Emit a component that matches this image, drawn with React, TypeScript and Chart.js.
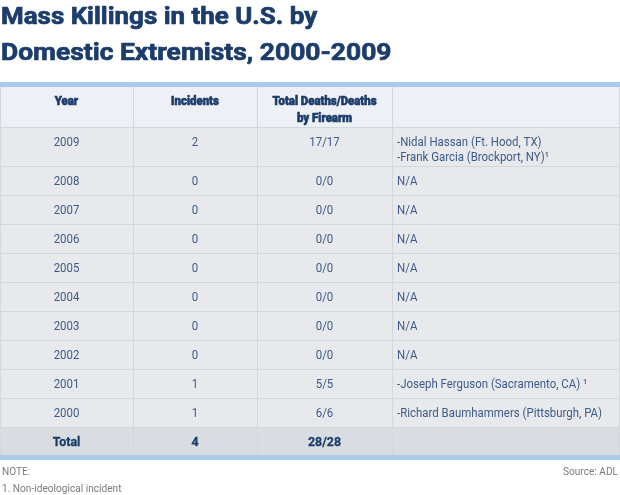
import React, { useEffect, useRef } from "react";
import { Chart, registerables } from "chart.js";
Chart.register(...registerables);

// ---- data ----
const titleLines = ["Mass Killings in the U.S. by", "Domestic Extremists, 2000-2009"];
const headerYear = "Year";
const headerIncidents = "Incidents";
const headerDeaths = ["Total Deaths/Deaths", "by Firearm"];
const years = ["2009", "2008", "2007", "2006", "2005", "2004", "2003", "2002", "2001", "2000"];
const incidents = [2, 0, 0, 0, 0, 0, 0, 0, 1, 1];
const totalDeaths = [17, 0, 0, 0, 0, 0, 0, 0, 5, 6];
const firearmDeaths = [17, 0, 0, 0, 0, 0, 0, 0, 5, 6];
const perpetrators = [
  ["-Nidal Hassan (Ft. Hood, TX)", "-Frank Garcia (Brockport, NY)\u00b9"],
  ["N/A"],
  ["N/A"],
  ["N/A"],
  ["N/A"],
  ["N/A"],
  ["N/A"],
  ["N/A"],
  ["-Joseph Ferguson (Sacramento, CA) \u00b9"],
  ["-Richard Baumhammers (Pittsburgh, PA)"],
];
const totalLabel = "Total";
const totalIncidents = 4;
const totalDeathsAll = 28;
const totalFirearmAll = 28;
const noteLabel = "NOTE:";
const footnotes = ["1. Non-ideological incident"];
const sourceLabel = "Source: ADL";

// ---- style ----
const W = 620;
const H = 495;
const COL_EDGES = [0, 133, 257, 392, 620];
const TABLE_TOP = 87;
const HEAD_BG = "#edf0f4";
const BODY_BG = "#e8e9ec";
const TOTAL_BG = "#d9dce0";
const GRID = "#d3d6da";
const BAND = "#a9cbe9";
const NAVY = "#1c3c6c";
const BODY_TEXT = "#3d5b89";
const NOTE_TEXT = "#7b7b7b";

type Kind = "head" | "body" | "total";
type Row = { kind: Kind; cells: string[][] };

const rows: Row[] = [
  { kind: "head", cells: [[headerYear], [headerIncidents], headerDeaths, []] },
  ...years.map((y, i) => ({
    kind: "body" as Kind,
    cells: [[y], [String(incidents[i])], [`${totalDeaths[i]}/${firearmDeaths[i]}`], perpetrators[i]],
  })),
  {
    kind: "total",
    cells: [[totalLabel], [String(totalIncidents)], [`${totalDeathsAll}/${totalFirearmAll}`], []],
  },
];

const lineCount = (r: Row) => Math.max(1, ...r.cells.map((c) => c.length));
const rowSize = (r: Row) => 29 + (lineCount(r) - 1) * (r.kind === "head" ? 11 : 10);
const rowStarts: number[] = [];
let acc = 0;
rows.forEach((r) => {
  rowStarts.push(acc);
  acc += rowSize(r);
});
const TOTAL_UNITS = acc;

function drawText(
  ctx: CanvasRenderingContext2D,
  s: string,
  x: number,
  y: number,
  align: CanvasTextAlign,
  sx: number,
  stroke = 0
) {
  ctx.save();
  ctx.translate(x, y);
  ctx.scale(sx, 1);
  ctx.textAlign = align;
  ctx.fillText(s, 0, 0);
  if (stroke > 0) {
    ctx.lineWidth = stroke;
    ctx.strokeStyle = ctx.fillStyle as string;
    ctx.lineJoin = "round";
    ctx.strokeText(s, 0, 0);
  }
  ctx.restore();
}

const tablePlugin = {
  id: "tablePlugin",
  beforeDraw(chart: any) {
    const { ctx, scales } = chart;
    const xs = scales.x;
    const ys = scales.y;
    const left = xs.getPixelForValue(COL_EDGES[0]);
    const right = xs.getPixelForValue(COL_EDGES[COL_EDGES.length - 1]);
    ctx.save();
    ctx.fillStyle = "#ffffff";
    ctx.fillRect(0, 0, chart.width, chart.height);

    // title
    ctx.fillStyle = NAVY;
    ctx.font = "700 24px Roboto";
    ctx.textBaseline = "alphabetic";
    drawText(ctx, titleLines[0], 1, 24, "left", 1.08, 0.7);
    drawText(ctx, titleLines[1], 1, 60, "left", 1.1, 0.7);

    // rows
    rows.forEach((r, ri) => {
      const top = ys.getPixelForValue(rowStarts[ri]);
      const bot = ys.getPixelForValue(rowStarts[ri] + rowSize(r));
      ctx.fillStyle = r.kind === "head" ? HEAD_BG : r.kind === "total" ? TOTAL_BG : BODY_BG;
      ctx.fillRect(left, top, right - left, bot - top);
      if (ri > 0) {
        ctx.fillStyle = GRID;
        ctx.fillRect(left, Math.round(top), right - left, 1);
      }
    });
    // vertical lines
    ctx.fillStyle = GRID;
    const tTop = ys.getPixelForValue(0);
    const tBot = ys.getPixelForValue(TOTAL_UNITS);
    for (let i = 0; i < COL_EDGES.length; i++) {
      let px = Math.round(xs.getPixelForValue(COL_EDGES[i]));
      if (i === COL_EDGES.length - 1) px -= 1;
      ctx.fillRect(px, tTop, 1, tBot - tTop);
    }
    // bands
    ctx.fillStyle = BAND;
    ctx.fillRect(left, tTop - 5, right - left, 5);
    ctx.fillRect(left, tBot - 1, right - left, 5);

    // text
    ctx.textBaseline = "middle";
    rows.forEach((r, ri) => {
      const top = ys.getPixelForValue(rowStarts[ri]);
      let font = "400 13px Roboto";
      let color = BODY_TEXT;
      let gap = 15;
      let sx = 0.88;
      let first = 15.5;
      let stroke = 0;
      if (r.kind === "head") {
        font = "900 12px Roboto";
        color = NAVY;
        gap = 16.5;
        sx = 0.95;
        first = 15;
        stroke = 0.6;
      } else if (r.kind === "total") {
        font = "700 13px Roboto";
        color = NAVY;
        sx = 0.95;
        stroke = 0.3;
      }
      ctx.font = font;
      ctx.fillStyle = color;
      r.cells.forEach((lines, ci) => {
        const c0 = xs.getPixelForValue(COL_EDGES[ci]);
        const c1 = xs.getPixelForValue(COL_EDGES[ci + 1]);
        const left4 = ci === 3;
        lines.forEach((s, li) => {
          const y = top + first + li * gap;
          if (left4) drawText(ctx, s, c0 + 5, y, "left", sx, stroke);
          else drawText(ctx, s, (c0 + c1) / 2, y, "center", sx, stroke);
        });
      });
    });

    // footer
    ctx.textBaseline = "alphabetic";
    ctx.font = "400 11px Roboto";
    ctx.fillStyle = NOTE_TEXT;
    drawText(ctx, noteLabel, 2, tBot + 19, "left", 0.92);
    drawText(ctx, sourceLabel, right - 2, tBot + 19, "right", 0.92);
    footnotes.forEach((f, i) => drawText(ctx, f, 2, tBot + 36 + i * 16, "left", 0.92));
    ctx.restore();
  },
};

export default function App() {
  const ref = useRef<HTMLCanvasElement | null>(null);
  useEffect(() => {
    document.body.style.margin = "0";
    if (!ref.current) return;
    const chart = new Chart(ref.current, {
      type: "scatter",
      data: { datasets: [] },
      options: {
        animation: false,
        responsive: false,
        maintainAspectRatio: false,
        layout: { padding: { top: TABLE_TOP, bottom: H - TABLE_TOP - TOTAL_UNITS, left: 0, right: 0 } },
        scales: {
          x: { type: "linear", min: COL_EDGES[0], max: COL_EDGES[COL_EDGES.length - 1], display: false },
          y: { type: "linear", min: 0, max: TOTAL_UNITS, reverse: true, display: false },
        },
        plugins: { legend: { display: false }, tooltip: { enabled: false }, title: { display: false } },
      },
      plugins: [tablePlugin],
    });
    return () => chart.destroy();
  }, []);
  return <canvas ref={ref} width={W} height={H} style={{ display: "block", width: W, height: H }} />;
}
